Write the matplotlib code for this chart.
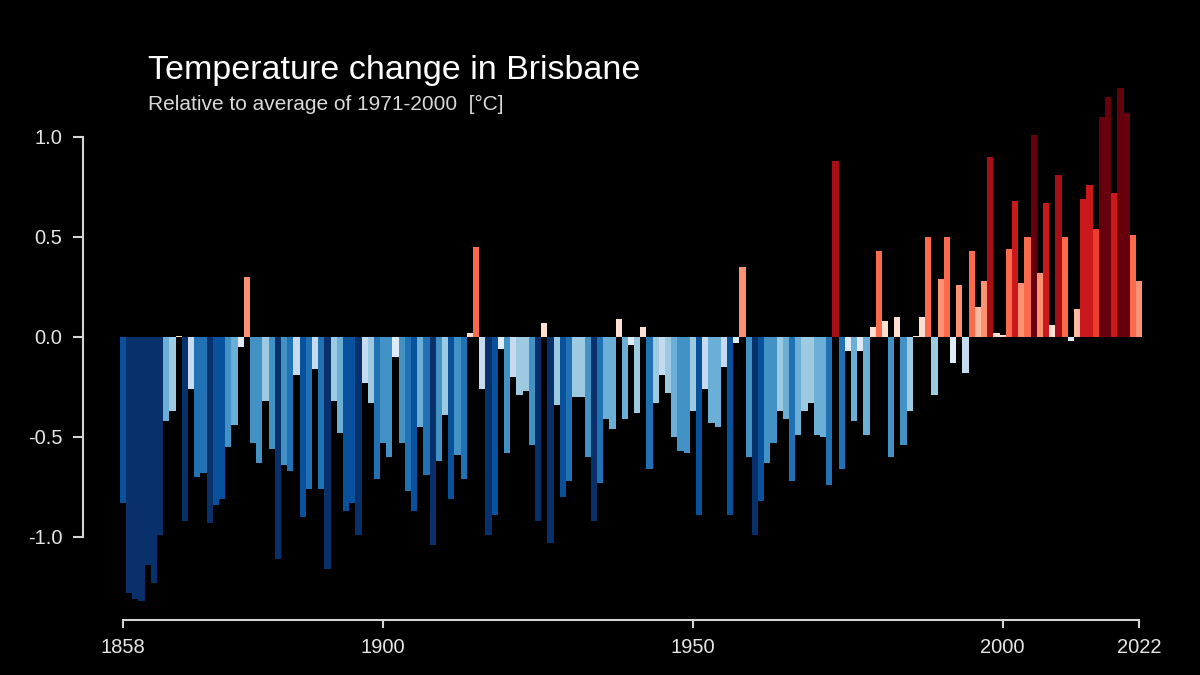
import numpy as np
import matplotlib
matplotlib.use("Agg")
import matplotlib.pyplot as plt
from matplotlib.colors import ListedColormap, BoundaryNorm

plt.rcParams['font.family'] = ['Liberation Sans', 'DejaVu Sans']
plt.rcParams['axes.unicode_minus'] = False

start_year = 1858
anomalies = [
    -0.83, -1.28, -1.31, -1.32, -1.14, -1.23, -0.99, -0.42, -0.37, 0.005,   # 1858-1867
    -0.92, -0.26, -0.70, -0.68, -0.93, -0.84, -0.81, -0.55, -0.44, -0.05,   # 1868-1877
    0.30, -0.53, -0.63, -0.32, -0.56, -1.11, -0.64, -0.67, -0.19, -0.90,    # 1878-1887
    -0.76, -0.16, -0.76, -1.16, -0.32, -0.48, -0.87, -0.83, -0.99, -0.23,   # 1888-1897
    -0.33, -0.71, -0.53, -0.60, -0.10, -0.53, -0.77, -0.87, -0.45, -0.69,   # 1898-1907
    -1.04, -0.62, -0.39, -0.81, -0.59, -0.71, 0.02, 0.45, -0.26, -0.99,     # 1908-1917
    -0.89, -0.06, -0.58, -0.20, -0.29, -0.27, -0.54, -0.92, 0.07, -1.03,    # 1918-1927
    -0.34, -0.80, -0.72, -0.30, -0.30, -0.60, -0.92, -0.73, -0.41, -0.46,   # 1928-1937
    0.09, -0.41, -0.04, -0.38, 0.05, -0.66, -0.33, -0.19, -0.28, -0.50,     # 1938-1947
    -0.57, -0.58, -0.37, -0.89, -0.26, -0.43, -0.45, -0.15, -0.89, -0.03,   # 1948-1957
    0.35, -0.60, -0.99, -0.82, -0.63, -0.53, -0.37, -0.41, -0.72, -0.49,    # 1958-1967
    -0.37, -0.33, -0.49, -0.50, -0.74, 0.88, -0.66, -0.07, -0.42, -0.07,    # 1968-1977
    -0.49, 0.05, 0.43, 0.08, -0.60, 0.10, -0.54, -0.37, 0.005, 0.10,        # 1978-1987
    0.50, -0.29, 0.29, 0.50, -0.13, 0.26, -0.18, 0.43, 0.15, 0.28,          # 1988-1997
    0.90, 0.02, 0.01, 0.44, 0.68, 0.27, 0.50, 1.01, 0.32, 0.67,             # 1998-2007
    0.06, 0.81, 0.50, -0.02, 0.14, 0.69, 0.76, 0.54, 1.10, 1.20,            # 2008-2017
    0.72, 1.245, 1.12, 0.51, 0.28,                                          # 2018-2022
]
years = np.arange(start_year, start_year + len(anomalies))

xtick_years = [1858, 1900, 1950, 2000, 2022]
ytick_values = [-1.0, -0.5, 0.0, 0.5, 1.0]

stripe_colors = ['#08306b', '#08519c', '#2171b5', '#4292c6', '#6baed6', '#9ecae1',
                 '#c6dbef', '#deebf7', '#fee0d2', '#fcbba1', '#fc9272', '#fb6a4a',
                 '#ef3b2c', '#cb181d', '#a50f15', '#67000d']
step = 0.13
bounds = [-5.0] + list(np.arange(-7, 8) * step) + [5.0]
cmap = ListedColormap(stripe_colors)
norm = BoundaryNorm(bounds, cmap.N)

fig = plt.figure(figsize=(12, 6.75), dpi=100, facecolor='black')
ax = fig.add_axes([83/1200, 55/675, 1067/1200, 560/675], facecolor='black')

vals = np.array(anomalies)
ax.bar(years, vals, width=1.0, color=cmap(norm(vals)), linewidth=0, edgecolor='none')

px_per_year = (1139 - 123) / 164
ax.set_xlim(1858 - 40 / px_per_year, 1858 + (1150 - 123) / px_per_year)
ax.set_ylim(-1.415, 1.385)

spine_col = '#d4d4d4'
for side in ['top', 'right']:
    ax.spines[side].set_visible(False)
for side in ['left', 'bottom']:
    ax.spines[side].set_color(spine_col)
    ax.spines[side].set_linewidth(1.5)
ax.spines['left'].set_bounds(-1.0, 1.0)
ax.spines['bottom'].set_bounds(1858, 2022)

ax.set_xticks(xtick_years)
ax.set_xticklabels([str(y) for y in xtick_years])
ax.set_yticks(ytick_values)
ax.set_yticklabels([f"{v:.1f}" for v in ytick_values])
ax.tick_params(axis='both', colors=spine_col, labelcolor='#e6e6e6', labelsize=14.5,
               width=1.5, direction='out')
ax.tick_params(axis='y', length=7, pad=8)
ax.tick_params(axis='x', length=6, pad=7)

fig.text(148/1200, 1 - 71/675, "Temperature change in Brisbane", color='white',
         fontsize=24.5, ha='left', va='center')
fig.text(148/1200, 1 - 104/675, "Relative to average of 1971-2000  [°C]", color='#d9d9d9',
         fontsize=15, ha='left', va='center')

fig.savefig('out.png', dpi=100, facecolor='black')
